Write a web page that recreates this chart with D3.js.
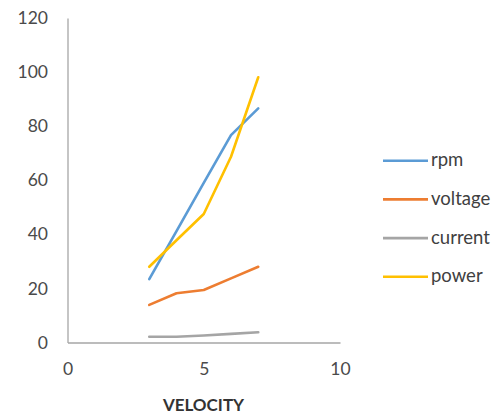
<!DOCTYPE html>
<html>
<head>
<meta charset="utf-8">
<script src="https://cdn.jsdelivr.net/npm/d3@7"></script>
<style>
  html, body { margin: 0; padding: 0; background: #fff; }
  svg { display: block; }
  text { font-family: Lato, "Open Sans", sans-serif; }
</style>
</head>
<body>
<svg id="chart" width="503" height="414"></svg>
<script>
// Motor readings against velocity
const velocity = [3, 4, 5, 6, 7];
const rpm      = [23.4, 41.2, 59.0, 76.7, 86.6];
const voltage  = [13.9, 18.2, 19.4, 23.7, 28.0];
const current  = [2.1, 2.1, 2.6, 3.2, 3.8];
const power    = [28.0, 37.8, 47.5, 68.7, 98.1];

const seriesNames  = ["rpm", "voltage", "current", "power"];
const seriesValues = [rpm, voltage, current, power];
const seriesColors = ["#5B9BD5", "#ED7D31", "#A5A5A5", "#FFC000"];

const xTicks = [0, 5, 10];
const yTicks = [0, 20, 40, 60, 80, 100, 120];
const xTitle = "VELOCITY";

const svg = d3.select("#chart");

const x = d3.scaleLinear().domain([0, 10]).range([67.5, 340]);
const y = d3.scaleLinear().domain([0, 120]).range([342.5, 18]);

const axisColor = "#A6A6A6";
const labelColor = "#4a4a4a";

// Y axis: plain line with labels, no tick marks
const yAxis = svg.append("g")
  .attr("transform", `translate(${x(0)},0)`)
  .call(d3.axisLeft(y).tickValues(yTicks).tickSize(0).tickPadding(19.5));
yAxis.select(".domain").attr("stroke", axisColor).attr("stroke-width", 1.3);
yAxis.selectAll("text")
  .attr("fill", labelColor)
  .style("font-size", "17.5px");

// X axis
const xAxis = svg.append("g")
  .attr("transform", `translate(0,${y(0)})`)
  .call(d3.axisBottom(x).tickValues(xTicks).tickSize(0).tickPadding(20));
xAxis.select(".domain").attr("stroke", axisColor).attr("stroke-width", 1.3);
xAxis.selectAll("text")
  .attr("fill", labelColor)
  .style("font-size", "17.5px");

svg.append("text")
  .attr("x", 203.5)
  .attr("y", 411)
  .attr("text-anchor", "middle")
  .attr("fill", "#333")
  .style("font-size", "17px")
  .style("font-weight", "bold")
  .text(xTitle);

// Series lines
const line = d3.line()
  .x((d, i) => x(velocity[i]))
  .y(d => y(d));

svg.append("g")
  .selectAll("path")
  .data(seriesValues)
  .join("path")
  .attr("d", d => line(d))
  .attr("fill", "none")
  .attr("stroke", (d, i) => seriesColors[i])
  .attr("stroke-width", 2.6)
  .attr("stroke-linejoin", "round")
  .attr("stroke-linecap", "round");

// Legend
const legend = svg.append("g");
const rows = legend.selectAll("g")
  .data(seriesNames)
  .join("g")
  .attr("transform", (d, i) => `translate(383,${160.7 + i * 38.7})`);
rows.append("line")
  .attr("x1", 0).attr("x2", 45)
  .attr("stroke", (d, i) => seriesColors[i])
  .attr("stroke-width", 2.6);
rows.append("text")
  .attr("x", 48)
  .attr("dy", "0.3em")
  .attr("fill", "#404040")
  .style("font-size", "18.5px")
  .text(d => d);
</script>
</body>
</html>
